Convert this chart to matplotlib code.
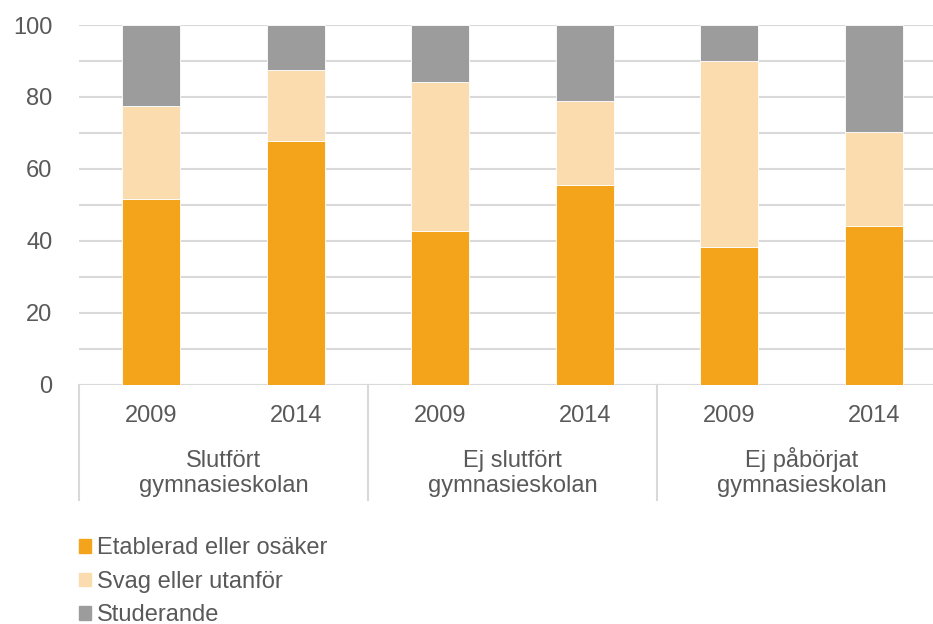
import matplotlib.pyplot as plt
from matplotlib.patches import Patch
import matplotlib.transforms as mtransforms

plt.rcParams['font.family'] = ['Liberation Sans', 'DejaVu Sans']

# Andel per grupp och år (procent)
groups = ["Slutfört\ngymnasieskolan", "Ej slutfört\ngymnasieskolan", "Ej påbörjat\ngymnasieskolan"]
years = ["2009", "2014"]
etablerad = [51.7, 67.7, 42.8, 55.6, 38.2, 44.1]
svag = [25.7, 19.9, 41.3, 23.2, 51.8, 26.1]
studerande = [22.6, 12.4, 15.9, 21.2, 10.0, 29.8]

c_etab = "#F4A41A"
c_svag = "#FBDCAE"
c_stud = "#9C9C9C"
txt = "#595959"
grid = "#D9D9D9"

fig = plt.figure(figsize=(9.33, 6.24), dpi=100)
ax = fig.add_axes([79 / 933, 239.5 / 624, 867 / 933, 359.5 / 624])

x = list(range(len(etablerad)))
bottom2 = [a + b for a, b in zip(etablerad, svag)]
ax.bar(x, etablerad, width=0.4, color=c_etab, edgecolor="white", linewidth=0.6, zorder=3)
ax.bar(x, svag, width=0.4, bottom=etablerad, color=c_svag, edgecolor="white", linewidth=0.6, zorder=3)
ax.bar(x, studerande, width=0.4, bottom=bottom2, color=c_stud, edgecolor="white", linewidth=0.6, zorder=3)

ax.set_xlim(-0.5, 5.5)
ax.set_ylim(0, 100)
ax.set_yticks(range(0, 101, 20))
ax.set_yticks(range(10, 100, 20), minor=True)
ax.tick_params(axis="y", which="both", length=0, labelsize=17, colors=txt, pad=19)
ax.set_xticks([])
ax.grid(axis="y", which="both", color=grid, linewidth=1.5, zorder=0)
for s in ax.spines.values():
    s.set_visible(False)
ax.axhline(0, color=grid, linewidth=1.5, zorder=2)

# Kategoriaxel i två nivåer: år och grupp
trans = mtransforms.blended_transform_factory(ax.transData, ax.transAxes)
for i in x:
    ax.text(i, -0.104, years[i % 2], transform=trans, ha="center", va="baseline",
            fontsize=17, color=txt)
for g, name in enumerate(groups):
    ax.text(2 * g + 0.5, -0.298, name, transform=trans, ha="center", va="baseline",
            fontsize=17, color=txt, linespacing=1.18)
for sep in [-0.5, 1.5, 3.5, 5.5]:
    ax.plot([sep, sep], [0, -0.32], transform=trans, color=grid, linewidth=1.5,
            clip_on=False)

handles = [Patch(color=c_etab, label="Etablerad eller osäker"),
           Patch(color=c_svag, label="Svag eller utanför"),
           Patch(color=c_stud, label="Studerande")]
fig.legend(handles=handles, loc="upper left", bbox_to_anchor=(70 / 933, 1 - 528 / 624),
           frameon=False, fontsize=17, labelcolor=txt, handlelength=0.51, handleheight=0.51,
           handletextpad=0.22, labelspacing=0.48, borderaxespad=0)

fig.savefig("out.png", dpi=100)
